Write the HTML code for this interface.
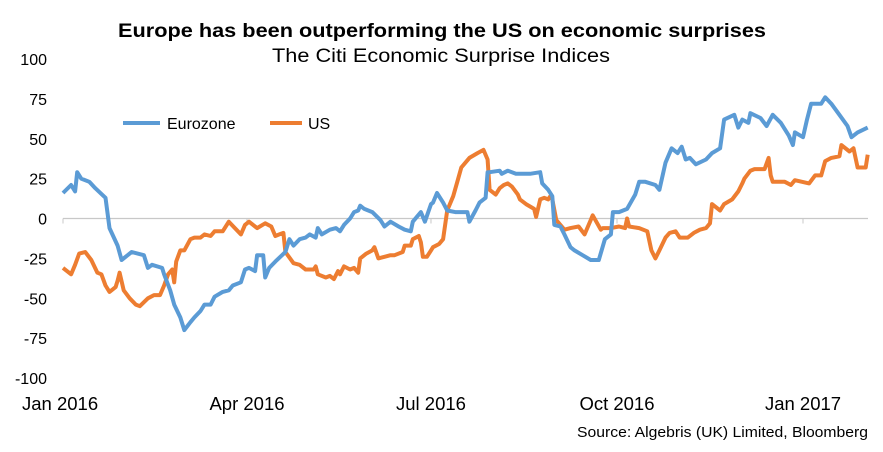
<!DOCTYPE html>
<html><head><meta charset="utf-8"><style>
body{margin:0;background:#fff;font-family:"Liberation Sans",Arial,sans-serif;}
svg{display:block}
</style></head><body>
<svg id="chart" width="883" height="452" viewBox="0 0 883 452">
<text x="442" y="37" text-anchor="middle" font-size="19" font-weight="bold" fill="#000" textLength="648" lengthAdjust="spacingAndGlyphs">Europe has been outperforming  the US on economic surprises</text>
<text x="441" y="62" text-anchor="middle" font-size="19" fill="#000" textLength="338" lengthAdjust="spacingAndGlyphs">The Citi Economic Surprise Indices</text>
<g id="yaxis"></g>
<g id="xaxis"></g>
<g id="series"></g>
<g>
<line x1="123" y1="123" x2="160" y2="123" stroke="#5B9BD5" stroke-width="4"/>
<text x="167" y="129" font-size="16">Eurozone</text>
<line x1="270" y1="123" x2="302" y2="123" stroke="#ED7D31" stroke-width="4"/>
<text x="308" y="129" font-size="16">US</text>
</g>
<text x="868" y="437" text-anchor="end" font-size="15" textLength="291" lengthAdjust="spacingAndGlyphs">Source: Algebris (UK) Limited, Bloomberg</text>
</svg>
<script>
const yTicks=[100,75,50,25,0,-25,-50,-75,-100];
const xTickLabels=["Jan 2016","Apr 2016","Jul 2016","Oct 2016","Jan 2017"];
const xTickDays=[0,91,182,274,366];
const euDays=[0,4,6,7,9,13,16,21,23,27,29,34,40,42,44,49,50,53,55,58,60,63,65,68,70,73,75,79,82,84,88,90,92,95,96,99,100,102,105,110,112,114,117,120,122,125,126,128,132,135,137,139,142,144,146,147,149,153,157,159,162,166,169,172,173,177,179,182,183,185,188,190,194,200,201,204,206,209,210,211,216,217,220,224,231,236,237,240,242,243,246,248,251,253,257,261,265,268,271,272,275,279,283,285,288,293,295,298,301,304,306,308,310,313,318,321,325,327,332,334,336,339,340,345,348,351,355,359,361,362,366,368,370,375,377,380,384,388,390,393,398];
const euVals=[16,21,17,29,25,23,19,13,-6,-17,-26,-21,-23,-31,-29,-31,-35,-45,-54,-62,-70,-65,-62,-58,-54,-54,-49,-46,-45,-42,-40,-32,-31,-33,-23,-23,-37,-31,-27,-21,-13,-17,-13,-12,-10,-12,-6,-10,-7,-6,-8,-4,0,4,5,8,6,4,-1,-5,-2,-5,-7,-8,-2,4,-2,9,10,16,10,5,4,4,-2,5,10,13,29,29,30,28,30,28,28,29,22,18,14,-4,-5,-10,-18,-20,-23,-26,-26,-13,-10,4,4,6,15,23,23,21,18,35,44,41,45,37,38,34,37,41,44,62,65,57,62,60,66,63,58,65,60,52,46,54,51,62,72,72,76,72,65,58,51,54,57];
const usDays=[0,4,6,8,11,14,17,19,21,23,26,27,28,30,33,36,38,42,45,48,50,52,54,55,56,58,60,63,65,68,70,73,75,79,82,85,88,90,92,96,100,103,105,107,109,110,114,117,120,124,125,126,130,132,134,136,137,139,142,144,146,147,150,153,154,156,159,162,164,168,169,172,173,176,177,178,180,182,183,186,188,190,193,195,197,201,205,208,210,211,214,216,218,220,222,225,226,229,233,234,236,238,240,241,242,244,246,248,251,255,258,261,262,266,267,271,275,278,279,280,285,289,291,293,295,298,300,303,305,309,312,315,318,320,321,325,327,331,334,336,337,340,342,347,349,350,351,357,360,362,369,372,375,377,380,384,385,389,391,393,397,398];
const usVals=[-31,-35,-29,-22,-21,-26,-34,-35,-42,-46,-43,-39,-34,-45,-50,-54,-55,-50,-48,-48,-42,-35,-32,-40,-27,-20,-20,-13,-12,-12,-10,-11,-8,-8,-2,-6,-10,-4,-2,-6,-3,-5,-11,-10,-9,-21,-28,-29,-32,-32,-30,-35,-37,-36,-38,-33,-35,-30,-32,-31,-34,-25,-22,-20,-18,-25,-24,-23,-23,-21,-17,-17,-13,-11,-15,-24,-24,-20,-18,-16,-13,5,14,23,32,38,41,43,37,18,15,19,21,22,20,15,12,9,6,1,12,13,12,14,12,-1,-4,-7,-6,-5,-10,-1,2,-7,-6,-6,-5,-6,0,-5,-6,-8,-20,-25,-20,-12,-9,-8,-12,-12,-9,-7,-6,-3,9,5,9,12,17,22,25,30,31,31,38,27,23,23,21,24,22,27,27,36,38,39,46,42,44,32,32,40];
const NS="http://www.w3.org/2000/svg";
const X=d=>63+d*(740/366);
const Y=v=>218.5-v*1.595;
const ya=document.getElementById('yaxis'),xa=document.getElementById('xaxis'),sg=document.getElementById('series');
yTicks.forEach(t=>{const e=document.createElementNS(NS,'text');


e.setAttribute('x',47);e.setAttribute('y',Y(t)+6);e.setAttribute('text-anchor','end');e.setAttribute('font-size','16');e.textContent=t;ya.appendChild(e);});
const zl=document.createElementNS(NS,'line');


zl.setAttribute('x1',63);zl.setAttribute('x2',868);zl.setAttribute('y1',Y(0));zl.setAttribute('y2',Y(0));zl.setAttribute('stroke','#c8c8c8');zl.setAttribute('stroke-width','1.3');xa.appendChild(zl);
xTickLabels.forEach((l,i)=>{const e=document.createElementNS(NS,'text');


e.setAttribute('x',X(xTickDays[i])+(i==0?-41:0));e.setAttribute('y',410);e.setAttribute('text-anchor',i==0?'start':'middle');e.setAttribute('font-size','18.5');e.textContent=l;xa.appendChild(e);
const tk=document.createElementNS(NS,'line');


tk.setAttribute('x1',X(xTickDays[i]));tk.setAttribute('x2',X(xTickDays[i]));tk.setAttribute('y1',Y(0));tk.setAttribute('y2',Y(0)+5);tk.setAttribute('stroke','#c8c8c8');xa.appendChild(tk);});
function line(days,vals,color,name){const p=document.createElementNS(NS,'polyline');


p.setAttribute('points',days.map((d,i)=>X(d).toFixed(1)+','+Y(vals[i]).toFixed(1)).join(' '));
p.setAttribute('fill','none');p.setAttribute('stroke',color);p.setAttribute('stroke-width','4');p.setAttribute('stroke-linejoin','round');sg.appendChild(p);}
line(usDays,usVals,'#ED7D31','us-line');
line(euDays,euVals,'#5B9BD5','eurozone-line');
</script>
</body></html>
